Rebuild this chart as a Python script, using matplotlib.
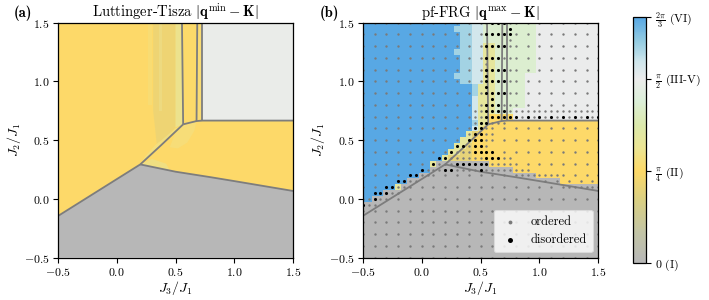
import numpy as np
import matplotlib
matplotlib.use("Agg")
import matplotlib.pyplot as plt
from matplotlib.colors import LinearSegmentedColormap, Normalize
from matplotlib.patches import Polygon
from matplotlib.cm import ScalarMappable

plt.rcParams.update({
    "font.family": "serif",
    "font.serif": ["cmr10"],
    "mathtext.fontset": "cm",
    "axes.formatter.use_mathtext": True,
    "axes.unicode_minus": True,
})

# ---------------- colour scale (fraction of 2pi/3) ----------------
cmap_fracs = [0.0, 0.12, 0.25, 0.375, 0.47, 0.56, 0.66, 0.75, 0.82, 0.9, 1.0]
cmap_cols = ["#b7b7b7", "#c2c4a6", "#d8cf84", "#fdd968", "#ece594", "#dce9ac",
             "#dcefd9", "#ececec", "#cfe6ec", "#96cde2", "#58a8e4"]
VMAX = 2 * np.pi / 3
cbar_ticks = [0, np.pi / 4, np.pi / 2, 2 * np.pi / 3]
cbar_labels = [r"$0$ (I)", r"$\frac{\pi}{4}$ (II)", r"$\frac{\pi}{2}$ (III-V)",
               r"$\frac{2\pi}{3}$ (VI)"]

# ---------------- (a) Luttinger-Tisza regions: (vertices, value as fraction) ----------------
lt_regions = [
    ([(-0.5, -0.5), (1.5, -0.5), (1.5, 0.068), (1.25, 0.11), (1.0, 0.152), (0.8, 0.185),
      (0.5, 0.232), (0.2, 0.294), (-0.5, -0.145)], 0.0),
    ([(-0.5, -0.145), (0.2, 0.294), (0.38, 0.46), (0.565, 0.635), (0.555, 1.5), (-0.5, 1.5)], 0.375),
    ([(0.2, 0.294), (0.5, 0.232), (0.8, 0.185), (1.0, 0.152), (1.25, 0.11), (1.5, 0.068),
      (1.5, 0.667), (0.728, 0.667), (0.679, 0.663), (0.565, 0.635), (0.38, 0.46)], 0.375),
    ([(0.565, 0.635), (0.679, 0.663), (0.685, 1.5), (0.555, 1.5)], 0.38),
    ([(0.679, 0.663), (0.728, 0.667), (0.728, 1.5), (0.685, 1.5)], 0.40),
    ([(0.728, 0.667), (1.5, 0.667), (1.5, 1.5), (0.728, 1.5)], 0.735),
]
# soft haze inside the yellow regions: (vertices, value fraction, alpha)
lt_haze = [
    ([(0.31, 1.5), (0.50, 1.5), (0.50, 0.61), (0.42, 0.52), (0.34, 0.47), (0.31, 0.75)], 0.29, 0.6),
    ([(0.50, 1.5), (0.556, 1.5), (0.565, 0.635), (0.50, 0.61)], 0.50, 0.7),
    ([(0.36, 1.5), (0.385, 1.5), (0.385, 0.75), (0.36, 0.75)], 0.47, 0.4),
    ([(0.27, 1.5), (0.3, 1.5), (0.3, 0.8), (0.27, 0.8)], 0.45, 0.3),
    ([(0.2, 0.294), (0.38, 0.46), (0.565, 0.635), (0.5, 0.6), (0.33, 0.46), (0.24, 0.36)], 0.47, 0.5),
    ([(0.2, 0.294), (0.45, 0.245), (0.42, 0.3), (0.3, 0.34)], 0.55, 0.4),
    ([(0.565, 0.635), (0.679, 0.663), (0.66, 0.58), (0.6, 0.48), (0.52, 0.43), (0.45, 0.44), (0.5, 0.56)], 0.46, 0.4),
]

# ---------------- boundary lines (both panels) ----------------
line_diag = [(-0.5, -0.145), (0.2, 0.294), (0.38, 0.46), (0.565, 0.635)]
line_low = [(0.2, 0.294), (0.5, 0.232), (0.8, 0.185), (1.0, 0.152), (1.25, 0.11), (1.5, 0.068)]
line_kink = [(0.565, 0.635), (0.679, 0.663), (0.728, 0.667), (1.5, 0.667)]
line_v1 = [(0.565, 0.635), (0.555, 1.5)]
line_v2 = [(0.679, 0.663), (0.685, 1.5)]
line_v3 = [(0.728, 0.667), (0.728, 1.5)]

# ---------------- (b) pf-FRG cell values (rows from J2=1.5 down to -0.5, 0.05 steps) ----------------
frg_level = {"G": 0.0, "o": 0.30, "Y": 0.375, "l": 0.50, "g": 0.64, "w": 0.75,
             "c": 0.81, "t": 0.88, "B": 1.0}
frg_rows = [
    "B17 t2 c2 g9 w11",   # 1.50
    "B16 t3 c2 g9 w11",   # 1.45
    "B17 t2 c2 g9 w11",   # 1.40
    "B17 t2 c2 g9 w11",   # 1.35
    "B17 t2 c2 l2 g7 w11",  # 1.30
    "B16 t3 c2 l2 g7 w11",  # 1.25
    "B17 t2 c2 l2 g7 w11",  # 1.20
    "B17 t2 c2 l2 g7 w11",  # 1.15
    "B17 t2 c2 l2 g7 w11",  # 1.10
    "B16 t3 c2 l2 g5 w13",  # 1.05
    "B17 t2 c2 l2 g5 w13",  # 1.00
    "B19 t1 l3 g5 w13",   # 0.95
    "B19 t1 l3 g5 w13",   # 0.90
    "B19 c1 l3 g5 w13",   # 0.85
    "B19 c1 l3 g5 w13",   # 0.80
    "B19 c1 l3 g3 w15",   # 0.75
    "B19 c1 l2 Y4 w15",   # 0.70
    "B19 t1 l2 Y19",      # 0.65
    "B19 c1 l1 Y20",      # 0.60
    "B18 l1 o1 Y21",      # 0.55
    "B17 l2 Y22",         # 0.50
    "B16 l2 o1 Y22",      # 0.45
    "B15 l2 o2 Y22",      # 0.40
    "B14 l1 o4 Y22",      # 0.35
    "B12 l1 G9 Y19",      # 0.30
    "B12 G14 Y15",        # 0.25
    "B10 G20 Y11",        # 0.20
    "B8 G26 Y7",          # 0.15
    "B6 l1 G34",          # 0.10
    "B4 G37",             # 0.05
    "B2 G39",             # 0.00
    "G41", "G41", "G41", "G41", "G41", "G41", "G41", "G41", "G41", "G41",  # -0.05 .. -0.5
]

# sample grid of the pf-FRG runs
grid_J3 = [-0.5, -0.4, -0.3, -0.2, -0.1, 0.0, 0.1, 0.2, 0.3, 0.4, 0.5, 0.6, 0.7, 0.8, 0.9,
           1.0, 1.1, 1.2, 1.3, 1.4, 1.5]
grid_J2 = list(grid_J3)

disordered_pts = [
    (-0.5, -0.05), (-0.4, 0.0), (-0.4, 0.05), (-0.35, 0.05), (-0.3, 0.05), (-0.3, 0.1),
    (-0.25, 0.1), (-0.2, 0.15), (-0.15, 0.15), (-0.1, 0.2), (-0.05, 0.2), (0.0, 0.25),
    (0.1, 0.3), (0.15, 0.35), (0.2, 0.35), (0.25, 0.4), (0.3, 0.45), (0.35, 0.45),
    (0.4, 0.5), (0.45, 0.5),
    (0.2, 0.25), (0.25, 0.25), (0.5, 0.25),
    (0.3, 0.3), (0.35, 0.3), (0.4, 0.3), (0.45, 0.3), (0.5, 0.3), (0.55, 0.3),
    (0.55, 0.35), (0.6, 0.35), (0.65, 0.35),
    (0.45, 0.4), (0.5, 0.4), (0.55, 0.4), (0.6, 0.4),
    (0.45, 0.45), (0.5, 0.45), (0.5, 0.5),
    (0.45, 0.55), (0.5, 0.55), (0.45, 0.6), (0.5, 0.6), (0.5, 0.65), (0.55, 0.65),
    (0.55, 0.7), (0.6, 0.7), (0.65, 0.7), (0.7, 0.7), (0.75, 0.7), (0.8, 0.7), (0.9, 0.7),
    (1.0, 0.7), (1.1, 0.7), (1.2, 0.7), (1.3, 0.7), (1.4, 0.7), (1.5, 0.7),
    (0.55, 0.75), (0.6, 0.75), (0.65, 0.75), (0.7, 0.75),
    (0.55, 0.8), (0.6, 0.8), (0.65, 0.8), (0.6, 0.85),
    (0.55, 0.9), (0.6, 0.9), (0.65, 0.9), (0.7, 0.9), (0.55, 0.95),
    (0.55, 1.0), (0.6, 1.0), (0.65, 1.0), (0.7, 1.0), (0.55, 1.05),
    (0.55, 1.1), (0.6, 1.1), (0.65, 1.1), (0.7, 1.1),
    (0.55, 1.2), (0.6, 1.2), (0.65, 1.2),
    (0.55, 1.3), (0.6, 1.3), (0.65, 1.3), (0.7, 1.3),
    (0.55, 1.4), (0.6, 1.4), (0.65, 1.4), (0.7, 1.4), (0.75, 1.4), (0.75, 1.45),
    (0.6, 1.5), (0.65, 1.5), (0.7, 1.5),
]
extra_ordered_pts = [
    (0.75, 0.8), (0.75, 0.9), (0.75, 1.0), (0.75, 1.1), (0.75, 1.2), (0.75, 1.3),
    (0.75, 1.5), (0.55, 1.5), (0.75, 1.35), (0.55, 1.15),
    (0.45, 0.75), (0.5, 0.75), (0.75, 0.75), (0.8, 0.75), (0.85, 0.75), (0.9, 0.75),
    (0.95, 0.75), (1.0, 0.75), (1.05, 0.75), (1.1, 0.75), (1.15, 0.75), (1.2, 0.75),
    (1.25, 0.75), (1.3, 0.75), (1.35, 0.75), (1.4, 0.75), (1.45, 0.75), (1.5, 0.75),
    (0.45, 0.7), (0.85, 0.7), (0.95, 0.7), (1.05, 0.7), (1.15, 0.7), (1.25, 0.7),
    (1.35, 0.7), (1.45, 0.7),
    (0.45, 0.65), (0.6, 0.65), (0.65, 0.65), (0.7, 0.65),
    (0.55, 0.6), (0.4, 0.55), (0.55, 0.55), (0.6, 0.55), (0.55, 0.5),
    (0.4, 0.45), (0.55, 0.45), (0.35, 0.4),
    (0.25, 0.35), (0.3, 0.35), (0.35, 0.35), (0.4, 0.35), (0.45, 0.35), (0.5, 0.35),
    (0.7, 0.35), (0.75, 0.35),
    (0.15, 0.3), (0.25, 0.3), (0.65, 0.3), (0.75, 0.3),
    (0.3, 0.25), (0.35, 0.25), (0.4, 0.25), (0.45, 0.25), (0.55, 0.25), (0.6, 0.25),
    (0.65, 0.25), (0.7, 0.25), (0.75, 0.25), (0.8, 0.25), (0.85, 0.25), (0.9, 0.25),
    (0.85, 0.2), (0.95, 0.2), (1.05, 0.2), (1.15, 0.2),
    (1.05, 0.15), (1.15, 0.15), (1.25, 0.15), (1.35, 0.15), (1.45, 0.15),
    (1.25, 0.1), (1.35, 0.1), (1.45, 0.1),
    (-0.45, -0.05), (-0.4, -0.05), (-0.45, 0.0), (-0.35, 0.0), (-0.25, 0.05),
    (-0.2, 0.05), (-0.15, 0.1), (-0.1, 0.15), (-0.05, 0.15), (0.05, 0.2),
    (0.05, 0.25), (0.1, 0.25), (0.15, 0.25),
]

# ---------------- build ----------------
cmap = LinearSegmentedColormap.from_list("frg", list(zip(cmap_fracs, cmap_cols)))
norm = Normalize(0, VMAX)


def frac_color(f):
    return cmap(norm(f * VMAX))


fig = plt.figure(figsize=(7.09, 3.0), dpi=100)
ax_a = fig.add_axes([0.0818, 0.141, 0.3315, 0.7833])
ax_b = fig.add_axes([0.5116, 0.141, 0.3323, 0.7833])
cax = fig.add_axes([0.893, 0.123, 0.018, 0.82])

line_kw = dict(color="#7d7d7d", lw=1.3, solid_capstyle="butt", zorder=3)


def draw_lines(ax):
    for ln in (line_diag, line_low, line_kink, line_v1, line_v2, line_v3):
        xs, ys = zip(*ln)
        ax.plot(xs, ys, **line_kw)


# panel (a)
for verts, f in lt_regions:
    ax_a.add_patch(Polygon(verts, closed=True, facecolor=frac_color(f), edgecolor="none", zorder=1))
for verts, f, a in lt_haze:
    ax_a.add_patch(Polygon(verts, closed=True, facecolor=frac_color(f), edgecolor="none",
                           alpha=a, zorder=1.5))
draw_lines(ax_a)

# panel (b)
rows_vals = []
for r in frg_rows:
    s = "".join(tok[0] * int(tok[1:]) for tok in r.split())
    assert len(s) == 41, (r, len(s))
    rows_vals.append([frg_level[ch] * VMAX for ch in s])
vals = np.array(rows_vals)[::-1]
cx = np.round(np.linspace(-0.5, 1.5, 41), 3)
cy = np.round(np.linspace(-0.5, 1.5, 41), 3)
ax_b.pcolormesh(cx, cy, vals, cmap=cmap, norm=norm, shading="nearest", zorder=0,
                rasterized=True)
draw_lines(ax_b)

dis_set = {(round(x, 2), round(y, 2)) for x, y in disordered_pts}
ord_pts = [(x, y) for y in grid_J2 for x in grid_J3 if (round(x, 2), round(y, 2)) not in dis_set]
ord_pts += [p for p in extra_ordered_pts if (round(p[0], 2), round(p[1], 2)) not in dis_set]
ox, oy = zip(*ord_pts)
dx, dy = zip(*disordered_pts)
ax_b.scatter(ox, oy, s=3.0, c="#7a7a7a", linewidths=0, zorder=4, label="ordered", clip_on=True)
ax_b.scatter(dx, dy, s=5.0, c="black", linewidths=0, zorder=5, label="disordered", clip_on=True)
leg = ax_b.legend(loc="lower right", fontsize=9, markerscale=1.6, handletextpad=0.8,
                  borderaxespad=0.45, handlelength=1.6, framealpha=0.8, fancybox=True,
                  borderpad=0.5, labelspacing=0.45)
leg.get_frame().set_edgecolor("#dddddd")
leg.get_frame().set_linewidth(0.8)

for ax, title, tag, tagx in ((ax_a, r"Luttinger-Tisza $|\mathbf{q}^{\min}-\mathbf{K}|$", "(a)", 0.02),
                             (ax_b, r"pf-FRG $|\mathbf{q}^{\max}-\mathbf{K}|$", "(b)", 0.451)):
    ax.set_xlim(-0.5, 1.5)
    ax.set_ylim(-0.5, 1.5)
    ticks = [-0.5, 0.0, 0.5, 1.0, 1.5]
    ax.set_xticks(ticks)
    ax.set_yticks(ticks)
    ax.set_xticklabels([rf"${t:.1f}$" for t in ticks])
    ax.set_yticklabels([rf"${t:.1f}$" for t in ticks])
    ax.tick_params(direction="out", length=3.5, width=0.8, labelsize=8.5, pad=2.5)
    for sp in ax.spines.values():
        sp.set_linewidth(0.9)
        sp.set_zorder(6)
    ax.set_xlabel(r"$J_3/J_1$", fontsize=10, labelpad=1)
    ax.set_ylabel(r"$J_2/J_1$", fontsize=10, labelpad=1)
    ax.set_title(title, fontsize=10.5, pad=4)
    fig.text(tagx, 0.955, tag, fontfamily="cmb10", fontsize=10.5, va="center", ha="left")

sm = ScalarMappable(norm=norm, cmap=cmap)
cb = fig.colorbar(sm, cax=cax)
cb.set_ticks(cbar_ticks)
cb.set_ticklabels(cbar_labels)
cb.ax.tick_params(direction="out", length=3.5, width=0.8, labelsize=8.5, pad=3)
cb.outline.set_linewidth(0.9)

fig.savefig("out.png", dpi=100)
